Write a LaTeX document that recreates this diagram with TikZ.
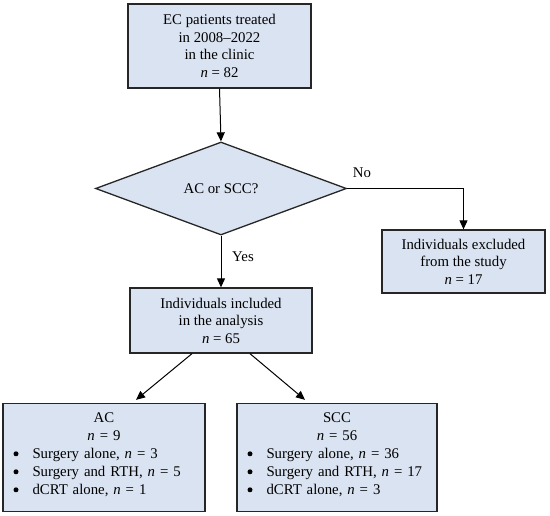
\documentclass[tikz,border=0pt]{standalone}
\usepackage{fontspec}
\setmainfont{Liberation Serif}
\usetikzlibrary{shapes.geometric,arrows.meta}
\definecolor{boxfill}{RGB}{218,227,241}
\newcommand\mybul{\hspace*{4pt}\tikz[baseline=0pt]\fill[black] (0,4.6pt) circle (2.5pt);\hspace*{14pt}}
\begin{document}
\begin{tikzpicture}[x=1pt,y=1pt,
  every node/.style={font=\fontsize{14.8}{17.5}\selectfont},
  fbox/.style={draw=black!85,line width=1.3pt,fill=boxfill,align=center,inner sep=0pt},
  arr/.style={line width=1pt,-{Triangle[length=9pt,width=8pt]}},
  lbl/.style={inner sep=0pt}]
\useasboundingbox (0,0) rectangle (550,-516);
\node[fbox,minimum width=183pt,minimum height=84pt] (top) at (219.5,-46)
  {EC patients treated\\in 2008–2022\\in the clinic\\\textit{n} = 82};
\node[draw=black!85,line width=1.3pt,fill=boxfill,diamond,aspect=2.7,inner sep=0pt,
  minimum width=251pt,minimum height=93pt] (dec) at (221,-188.5) {AC or SCC?};
\node[fbox,minimum width=163pt,minimum height=63pt] (exc) at (463.5,-261.5)
  {Individuals excluded\\from the study\\\textit{n} = 17};
\node[fbox,minimum width=182pt,minimum height=65pt] (inc) at (221,-320.5)
  {Individuals included\\in the analysis\\\textit{n} = 65};
\node[fbox,minimum width=202pt,minimum height=108pt,align=left,text width=189pt] (ac) at (104,-457.5)
  {\fontsize{14.8}{18}\selectfont\centering AC\\\textit{n} = 9\par\raggedright
   \mybul Surgery alone, \textit{n} = 3\\
   \mybul Surgery and RTH, \textit{n} = 5\\
   \mybul dCRT alone, \textit{n} = 1\rule[-8pt]{0pt}{8pt}\par};
\node[fbox,minimum width=200pt,minimum height=108pt,align=left,text width=187pt] (scc) at (337,-457.5)
  {\fontsize{14.8}{18}\selectfont\centering SCC\\\textit{n} = 56\par\raggedright
   \mybul Surgery alone, \textit{n} = 36\\
   \mybul Surgery and RTH, \textit{n} = 17\\
   \mybul dCRT alone, \textit{n} = 3\rule[-8pt]{0pt}{8pt}\par};
\draw[arr] (top.south) -- (dec.north);
\draw[arr] (dec.south) -- (inc.north);
\draw[arr] (dec.east) -| (exc.north);
\draw[arr] ([xshift=-29pt]inc.south) -- ([xshift=32pt,yshift=3pt]ac.north);
\draw[arr] ([xshift=29pt]inc.south) -- ([xshift=-32pt,yshift=3pt]scc.north);
\node[lbl] (no) at (362,-173) {No};
\node[lbl] (yes) at (243,-257) {Yes};
\end{tikzpicture}
\end{document}
